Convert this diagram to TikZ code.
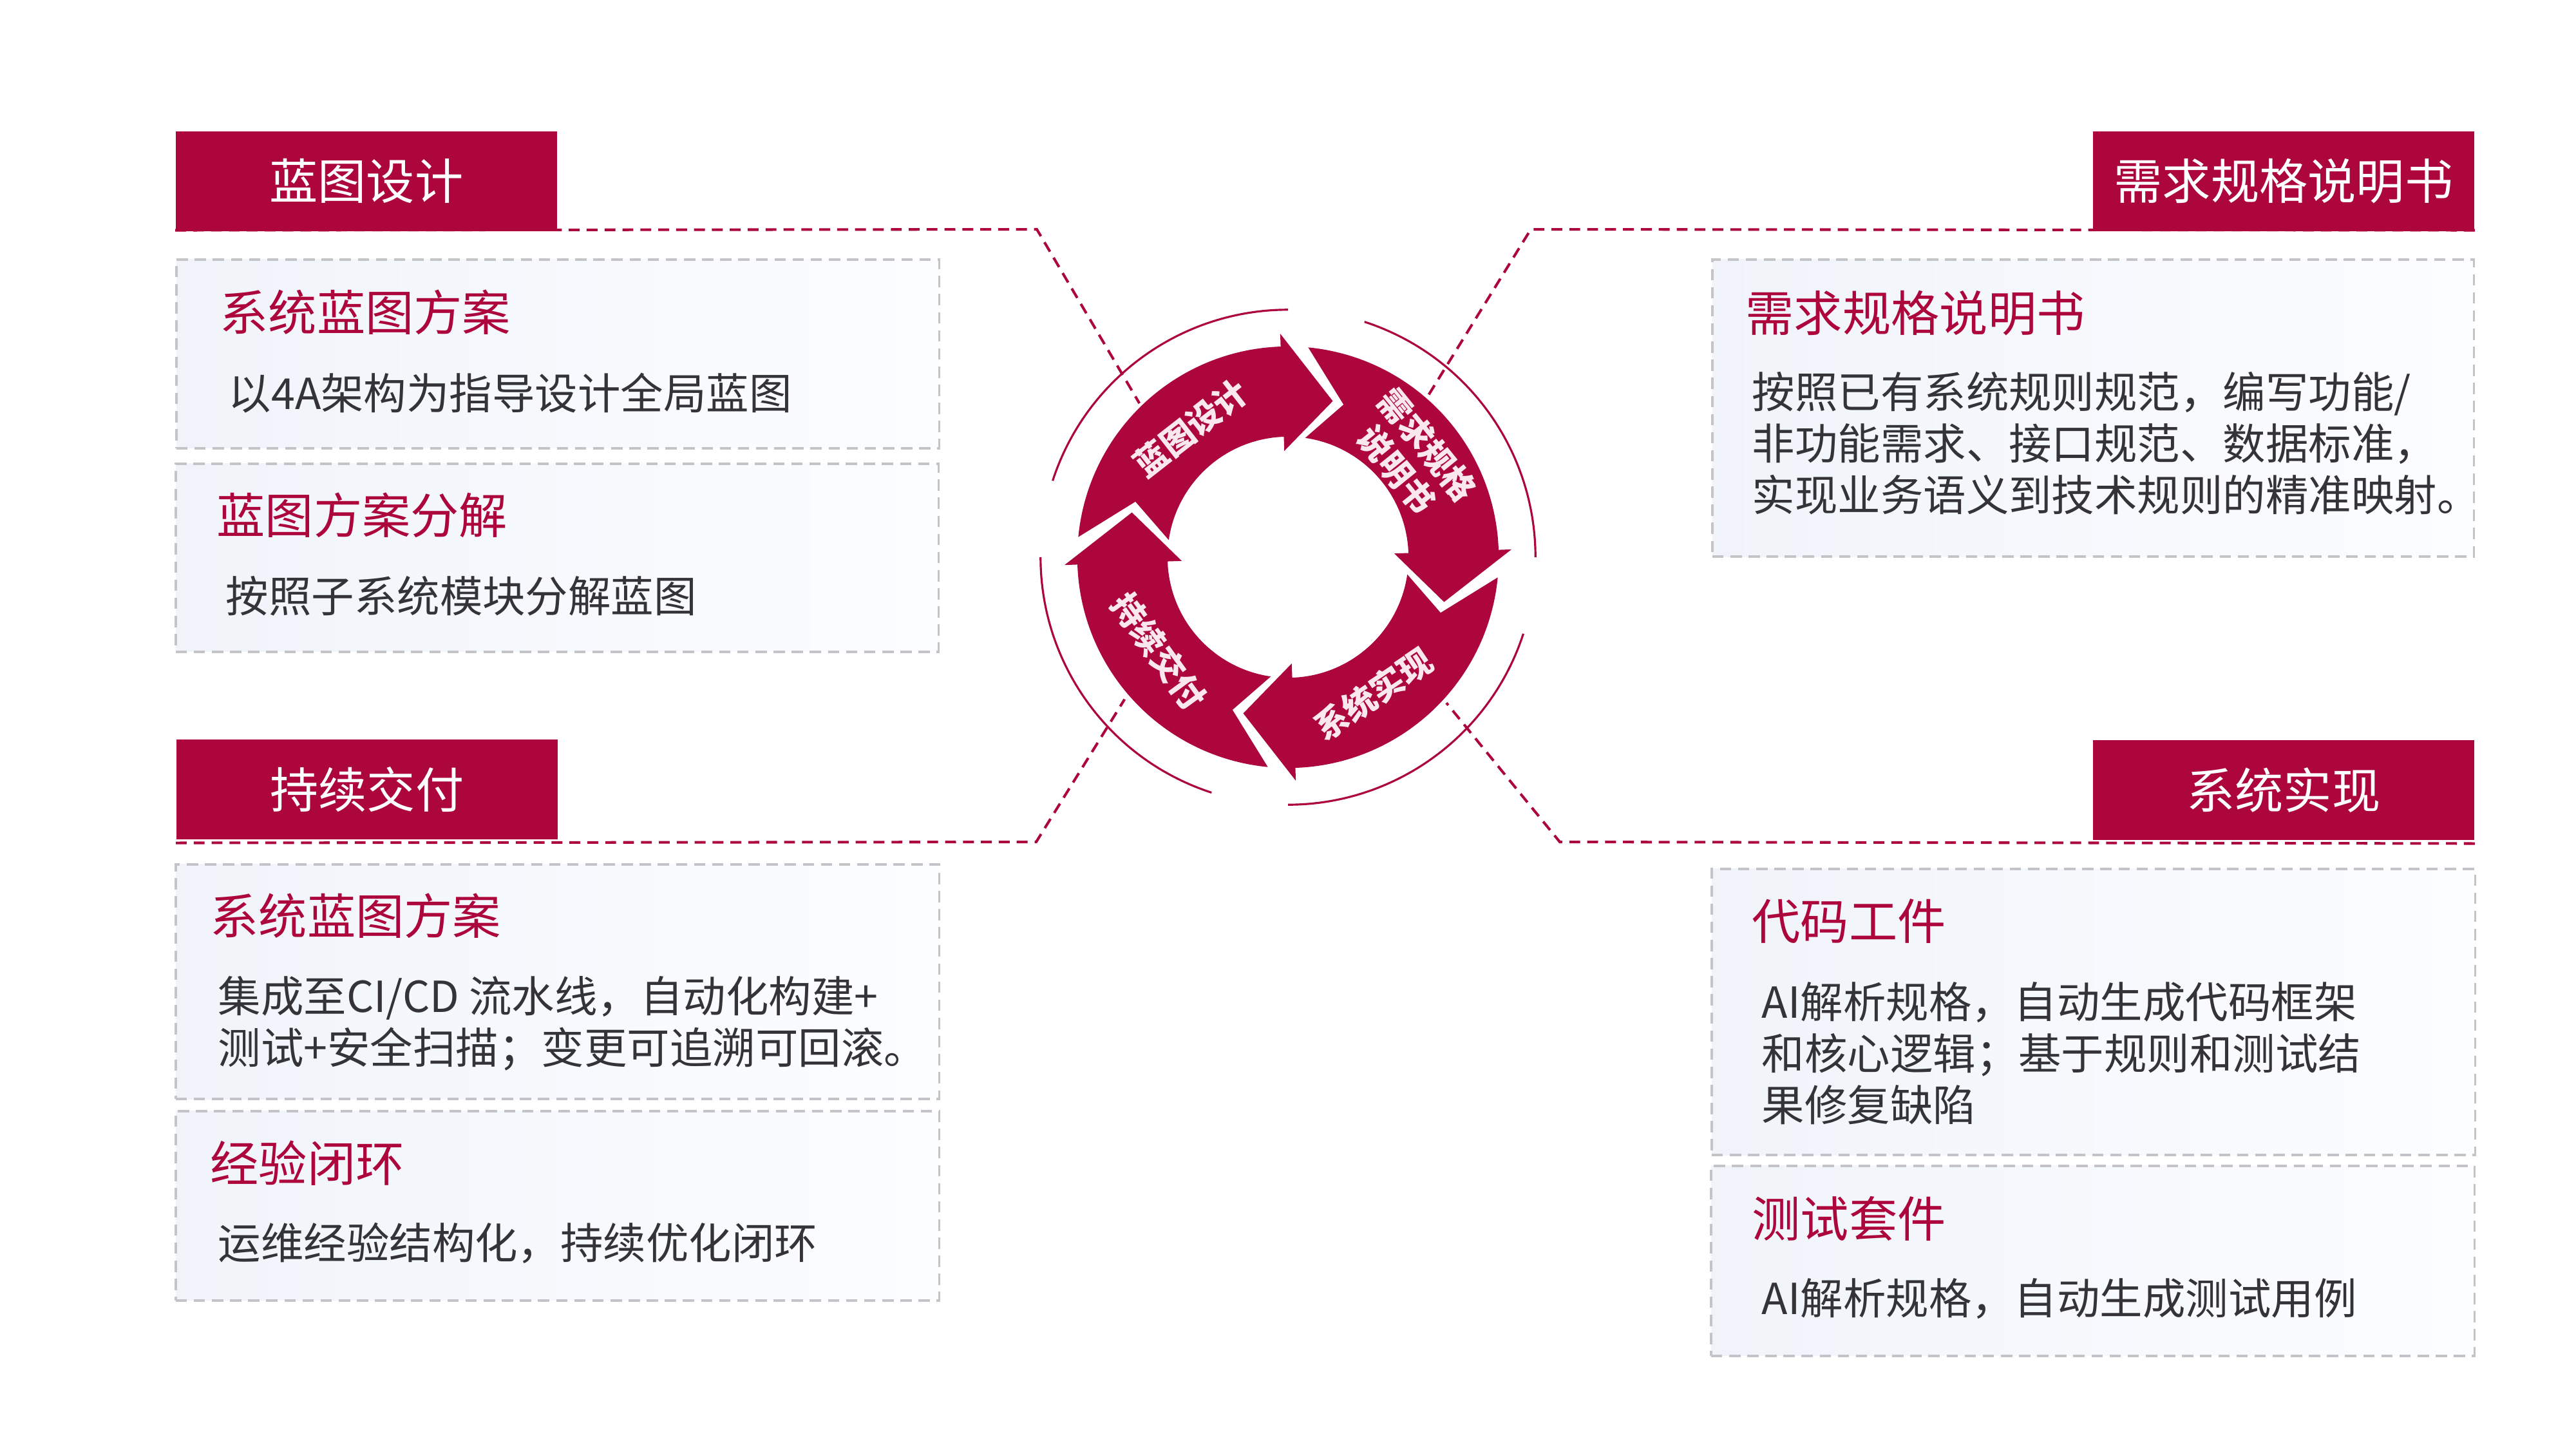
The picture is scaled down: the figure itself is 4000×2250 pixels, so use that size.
\documentclass[tikz,border=0pt]{standalone}
\usepackage{fontspec}
\setmainfont{Noto Sans CJK SC}
\usetikzlibrary{calc}
\definecolor{crim}{RGB}{172,6,60}
\definecolor{bodytxt}{RGB}{52,52,56}
\definecolor{boxline}{RGB}{196,196,200}
\definecolor{boxfillL}{RGB}{240,244,250}
\definecolor{boxfillR}{RGB}{252,253,255}
\definecolor{ringtxt}{RGB}{250,232,238}
\begin{document}
\begin{tikzpicture}[x=0.01cm, y=-0.01cm,
  hdr/.style={fill=crim, minimum width=5.92cm, minimum height=1.55cm, inner sep=0pt, anchor=north west,
    text=white, font=\fontsize{21.4}{25}\selectfont},
  card/.style={draw=boxline, line width=1pt, dash pattern=on 5pt off 3pt,
    left color=boxfillL, right color=boxfillR, inner sep=0pt, anchor=north west},
  ttl/.style={anchor=west, inner sep=0pt, text=crim, font=\fontsize{21.4}{25}\selectfont},
  bdy/.style={anchor=west, inner sep=0pt, text=bodytxt, align=left, font=\fontsize{18.9}{22.76}\selectfont},
  conn/.style={crim, line width=1.15pt, dash pattern=on 4.8pt off 3.1pt},
  thinarc/.style={crim, line width=0.9pt},
  ringlbl/.style={text=ringtxt, inner sep=0pt, align=center, font=\fontsize{14.7}{17.5}\selectfont\bfseries}
]
\useasboundingbox (0,0) rectangle (4000,2250);
\fill[white] (0,0) rectangle (4000,2250);

% cards
\node[card, minimum width=11.84cm, minimum height=2.93cm] (cTL1) at (272,401) {};
\node[card, minimum width=11.84cm, minimum height=2.92cm] (cTL2) at (271,718) {};
\node[card, minimum width=11.82cm, minimum height=4.61cm] (cTR) at (2657,401) {};
\node[card, minimum width=11.85cm, minimum height=3.64cm] (cBL1) at (271,1340) {};
\node[card, minimum width=11.85cm, minimum height=2.94cm] (cBL2) at (271,1723) {};
\node[card, minimum width=11.85cm, minimum height=4.44cm] (cBR1) at (2656,1347) {};
\node[card, minimum width=11.85cm, minimum height=2.95cm] (cBR2) at (2655,1808) {};

% headers
\node[hdr] (hTL) at (272,203) {蓝图设计};
\node[hdr] (hBL) at (273,1147) {持续交付};
\node[hdr] (hTR) at (3249,203) {需求规格说明书};
\node[hdr] (hBR) at (3249,1148) {系统实现};

% card texts
\node[ttl] (tTL1) at (341,485) {系统蓝图方案};
\node[bdy] (bTL1) at (354,610) {以4A架构为指导设计全局蓝图};
\node[ttl] (tTL2) at (336,800) {蓝图方案分解};
\node[bdy] (bTL2) at (350,925) {按照子系统模块分解蓝图};

\node[ttl] (tTR) at (2710,486) {需求规格说明书};
\node[bdy] (bTR) at (2720,688) {按照已有系统规则规范，编写功能/\\非功能需求、接口规范、数据标准，\\实现业务语义到技术规则的精准映射。};

\node[ttl] (tBL1) at (326,1422) {系统蓝图方案};
\node[bdy] (bBL1) at (338,1589) {集成至CI/CD 流水线，自动化构建+\\测试+安全扫描；变更可追溯可回滚。};
\node[ttl] (tBL2) at (326,1806) {经验闭环};
\node[bdy] (bBL2) at (338,1930) {运维经验结构化，持续优化闭环};

\node[ttl] (tBR1) at (2720,1430) {代码工件};
\node[bdy] (bBR1) at (2735,1635) {AI解析规格，自动生成代码框架\\和核心逻辑；基于规则和测试结\\果修复缺陷};
\node[ttl] (tBR2) at (2720,1892) {测试套件};
\node[bdy] (bBR2) at (2735,2016) {AI解析规格，自动生成测试用例};

% ring anchor coordinates
\coordinate (ctr) at (2000,865);
\coordinate (rTL) at ([shift={(134:3.32cm)}]ctr);
\coordinate (rTR) at ([shift={(49:3.30cm)}]ctr);
\coordinate (rBL) at ([shift={(221:3.36cm)}]ctr);
\coordinate (rBR) at ([shift={(-42.6:3.34cm)}]ctr);
\coordinate (kTL) at (1610,356);
\coordinate (kTR) at (2377,356);
\coordinate (kBL) at (1609,1307);
\coordinate (kBR) at (2422,1307);

% dashed connectors
\draw[conn] ($(hTL.south west)+(0,-2)$) -- (kTL) -- (rTL);
\draw[conn] ($(hTR.south east)+(0,-2)$) -- (kTR) -- (rTR);
\draw[conn] ($(hBL.south west)+(0,5)$) -- (kBL) -- (rBL);
\draw[conn] ($(hBR.south east)+(0,5)$) -- (kBR) -- (rBR);

% ring
\begin{scope}[shift={(ctr)}]
  \foreach \s in {90,0,-90,180} {
    \draw[thinarc] (\s:3.84cm) arc[start angle=\s, end angle=\s+72, radius=3.84cm];
  }
  \foreach \b in {92,2,-88,182} {
    \fill[crim] (\b+82.5:3.27cm) arc[start angle=\b+82.5, end angle=\b, radius=3.27cm]
      -- (\b:3.47cm) -- (\b-18:2.52cm) -- (\b:1.65cm) -- (\b:1.87cm)
      arc[start angle=\b, end angle=\b+79.8, radius=1.87cm]
      -- (\b+68:2.52cm) -- cycle;
  }
  \node[ringlbl, rotate=38] (lTL) at (127:2.51cm) {蓝图设计};
  \node[ringlbl, rotate=-51] (lTR) at (39:2.47cm) {需求规格\\说明书};
  \node[ringlbl, rotate=34] (lBR) at (-58:2.50cm) {系统实现};
  \node[ringlbl, rotate=-54] (lBL) at (216:2.48cm) {持续交付};
\end{scope}
\end{tikzpicture}
\end{document}
